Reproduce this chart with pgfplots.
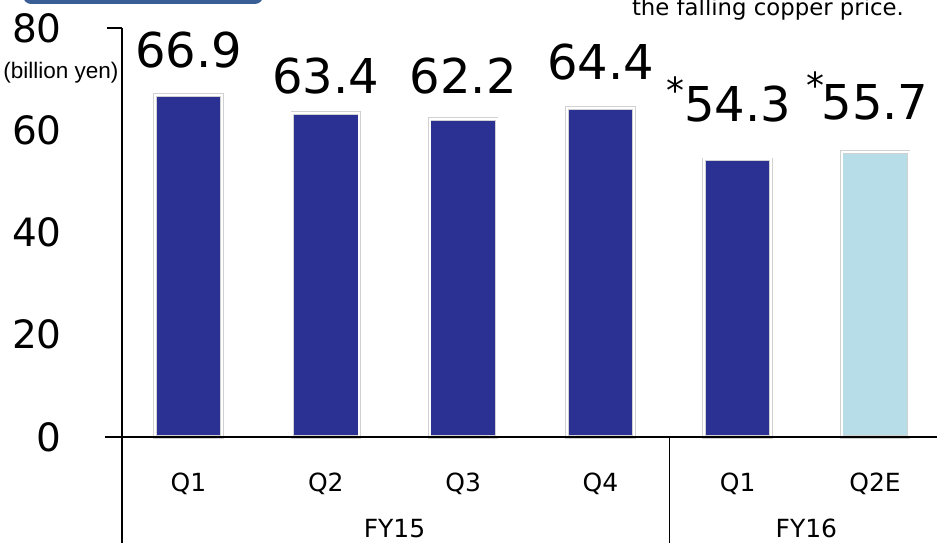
\documentclass[border=0pt]{standalone}
\usepackage{fontspec}
\setmainfont{DejaVu Sans}
\newfontfamily\arialfont{Liberation Sans}
\usepackage{pgfplots}
\pgfplotsset{compat=1.18}
\usepackage{pgfplotstable}
\definecolor{barblue}{RGB}{43,49,146}
\definecolor{barlight}{RGB}{183,221,232}
\definecolor{boxblue}{RGB}{58,95,150}

\pgfplotstableread{
x y ly lab
0 66.9 75.7 66.9
1 63.4 70.6 63.4
2 62.2 70.6 62.2
3 64.4 73.4 64.4
4 54.3 65.2 54.3
}\actual
\pgfplotstableread{
x y ly lab
5 55.7 65.4 55.7
}\estimate

\begin{document}
\begin{tikzpicture}
\begin{axis}[
  scale only axis,
  width=407.5pt, height=204.5pt,
  xmin=-0.484, xmax=5.451, ymin=0, ymax=80,
  clip=false,
  axis line style={draw=none},
  tick style={draw=none},
  xtick={0,1,2,3,4,5},
  xticklabels={Q1,Q2,Q3,Q4,Q1,Q2E},
  xticklabel style={font=\fontsize{12.5}{14}\selectfont, anchor=base, inner sep=0pt, yshift=-23pt},
  ytick={0,20,40,60,80},
  yticklabel style={font=\fontsize{19.5}{21}\selectfont, anchor=east, inner sep=0pt, xshift=-30pt},
  /pgf/number format/assume math mode=true,
  ybar, bar width=33.5pt,
]
\addplot[ybar, bar shift=0pt, fill=barblue, draw=black!18, line width=0.4pt, double=white, double distance=1pt] table[x=x,y=y]{\actual};
\addplot[ybar, bar shift=0pt, fill=barlight, draw=black!18, line width=0.4pt, double=white, double distance=1pt] table[x=x,y=y]{\estimate};
\addplot[only marks, mark=none, nodes near coords, point meta=explicit symbolic,
  every node near coord/.style={anchor=center, font=\fontsize{24}{26}\selectfont, black}]
  table[x=x,y=ly,meta=lab]{\actual};
\addplot[only marks, mark=none, nodes near coords, point meta=explicit symbolic,
  every node near coord/.style={anchor=center, font=\fontsize{24}{26}\selectfont, black}]
  table[x=x,y=ly,meta=lab]{\estimate};

% axis lines
\draw[black, line width=0.6pt] (axis cs:-0.484,80) -- (axis cs:-0.484,-20.73);
\draw[black, line width=0.6pt] (axis cs:-0.594,80) -- (axis cs:-0.484,80);
\draw[black, line width=0.6pt] (axis cs:-0.608,0) -- (axis cs:5.451,0);
\draw[black, line width=0.6pt] (axis cs:3.5,0) -- (axis cs:3.5,-20.73);

% group labels
\node[font=\fontsize{12.5}{14}\selectfont, anchor=base, inner sep=0pt] at (axis cs:1.5,-19.76) {FY15};
\node[font=\fontsize{12.5}{14}\selectfont, anchor=base, inner sep=0pt] at (axis cs:4.5,-19.76) {FY16};

% unit
\node[font=\arialfont\fontsize{11.25}{13}\selectfont, inner sep=0pt, anchor=west] at (axis cs:-1.351,71.2) {(billion yen)};

% asterisks
\node[font=\fontsize{18}{20}\selectfont, anchor=base, inner sep=0pt] at (axis cs:3.548,65.2) {*};
\node[font=\fontsize{18}{20}\selectfont, anchor=base, inner sep=0pt] at (axis cs:4.567,66.3) {*};

% top text and box (cut off)
\node[font=\fontsize{11.4}{13}\selectfont, anchor=base, inner sep=0pt] at (axis cs:4.22,82.5) {the falling copper price.};
\fill[boxblue, rounded corners=4pt] (axis cs:-1.205,84.7) rectangle (axis cs:0.5425,95);

\coordinate (bl) at (axis cs:-1.373,-20.73);
\coordinate (tr) at (axis cs:5.451,85.48);
\end{axis}
\pgfresetboundingbox
\useasboundingbox (bl) rectangle (tr);
\end{tikzpicture}
\end{document}
